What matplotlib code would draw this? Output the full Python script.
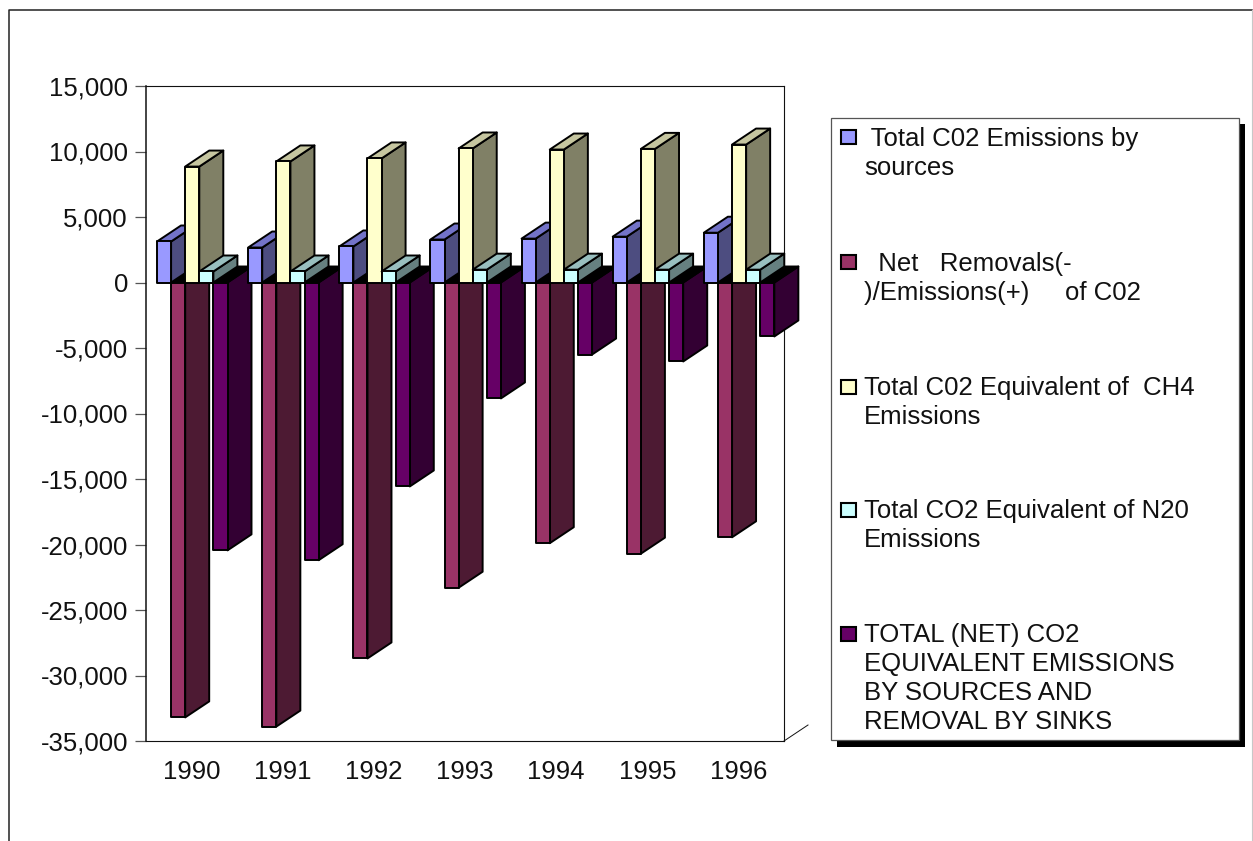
import matplotlib
matplotlib.use('Agg')
import matplotlib.pyplot as plt
from matplotlib.patches import Polygon, Rectangle

# data
YEARS = ['1990', '1991', '1992', '1993', '1994', '1995', '1996']
CO2_SOURCES = [3130, 2670, 2750, 3280, 3350, 3500, 3800]
NET_REMOVALS = [-33200, -33900, -28700, -23300, -19900, -20700, -19450]
CH4_EQUIV = [8850, 9240, 9470, 10230, 10150, 10200, 10530]
N2O_EQUIV = [840, 840, 840, 980, 980, 980, 980]
TOTAL_NET = [-20450, -21200, -15570, -8850, -5500, -6030, -4120]
Y_TICKS = [15000, 10000, 5000, 0, -5000, -10000, -15000, -20000, -25000, -30000, -35000]
LEGEND_LABELS = [
    ' Total C02 Emissions by\nsources',
    '  Net   Removals(-\n)/Emissions(+)     of C02',
    'Total C02 Equivalent of  CH4\nEmissions',
    'Total CO2 Equivalent of N20\nEmissions',
    'TOTAL (NET) CO2\nEQUIVALENT EMISSIONS\nBY SOURCES AND\nREMOVAL BY SINKS',
]

# front, side, top colours per series
COLORS = [
    ('#9999FF', '#4D4D80', '#7373C8'),
    ('#993366', '#4D1A33', '#000000'),
    ('#FFFFCC', '#808066', '#C6C6A0'),
    ('#CCFFFF', '#668080', '#99BFBF'),
    ('#660066', '#330033', '#000000'),
]

W, H = 1253, 841
FONT = 'Liberation Sans'
FONT_SIZE = 18.5

# pixel layout of the plot area
LEFT, RIGHT, TOP, BOTTOM = 146, 784, 86, 741
GROUP_PX = (RIGHT - LEFT) / len(YEARS)
BAR_W = 14.1 / GROUP_PX
BAR_START = 11 / GROUP_PX
DEPTH_X = 24 / GROUP_PX
DEPTH_Y = 16 / 13.1 * 1000
EDGE_LW = 1.4


def draw_bar(ax, x, value, colors, zorder):
    front, side, top = colors
    x2 = x + BAR_W
    dx, dy = DEPTH_X, DEPTH_Y
    top_y = max(value, 0)
    faces = [
        ([(x2, 0), (x2 + dx, dy), (x2 + dx, value + dy), (x2, value)], side),
        ([(x, top_y), (x + dx, top_y + dy), (x2 + dx, top_y + dy), (x2, top_y)], top),
        ([(x, 0), (x2, 0), (x2, value), (x, value)], front),
    ]
    for pts, color in faces:
        ax.add_patch(Polygon(pts, closed=True, facecolor=color, edgecolor='black',
                             linewidth=EDGE_LW, joinstyle='round', clip_on=False,
                             zorder=zorder))


fig = plt.figure(figsize=(W / 100, H / 100), dpi=100, facecolor='white')

ax = fig.add_axes([LEFT / W, 1 - BOTTOM / H, (RIGHT - LEFT) / W, (BOTTOM - TOP) / H])
ax.set_xlim(0, len(YEARS))
ax.set_ylim(-35000, 15000)
for spine in ax.spines.values():
    spine.set_linewidth(0.8)
    spine.set_color('#111111')
ax.spines['left'].set_linewidth(1.1)
ax.set_yticks(Y_TICKS)
ax.set_yticklabels([f'{v:,}' for v in Y_TICKS], fontfamily=FONT, fontsize=FONT_SIZE, color='#111111')
ax.set_xticks([i + 0.5 for i in range(len(YEARS))])
ax.set_xticklabels(YEARS, fontfamily=FONT, fontsize=FONT_SIZE, color='#111111')
ax.tick_params(axis='y', length=8, width=0.9, color='#555555', pad=5)
ax.tick_params(axis='x', length=0, pad=14)

series = [CO2_SOURCES, NET_REMOVALS, CH4_EQUIV, N2O_EQUIV, TOTAL_NET]

# negative bars go behind the positive ones
z = 3
for want_negative in (True, False):
    for i in range(len(YEARS)):
        for s, values in enumerate(series):
            if (values[i] < 0) == want_negative:
                draw_bar(ax, i + BAR_START + s * BAR_W, values[i], COLORS[s], z)
                z += 1

# overlay in pixel coordinates for the outer frame, wall corner and legend
ov = fig.add_axes([0, 0, 1, 1], facecolor='none')
ov.set_xlim(0, W)
ov.set_ylim(H, 0)
ov.axis('off')

ov.plot([9, 9, 1252], [H, 10, 10], color='#222222', lw=1.1)
ov.plot([1252, 1252], [10, H], color='#C8C8C8', lw=0.8)
ov.plot([RIGHT, RIGHT + 24], [BOTTOM, BOTTOM - 16], color='#111111', lw=0.7)

ov.add_patch(Rectangle((837, 124), 408, 623, facecolor='black', edgecolor='none'))
ov.add_patch(Rectangle((831, 118), 408, 622, facecolor='white', edgecolor='#555555', lw=0.9))

LEGEND_Y = [137, 262, 387, 510, 634]
TEXT_Y = [139, 264, 388, 511, 635]
for label, y, ty, colors in zip(LEGEND_LABELS, LEGEND_Y, TEXT_Y, COLORS):
    ov.add_patch(Rectangle((841, y - 7), 15, 14, facecolor=colors[0], edgecolor='black', lw=1.5))
    ov.text(864, ty - 12, label, fontfamily=FONT, fontsize=FONT_SIZE, color='#111111',
            va='top', ha='left', linespacing=1.27)

fig.savefig('out.png', dpi=100, facecolor='white')
